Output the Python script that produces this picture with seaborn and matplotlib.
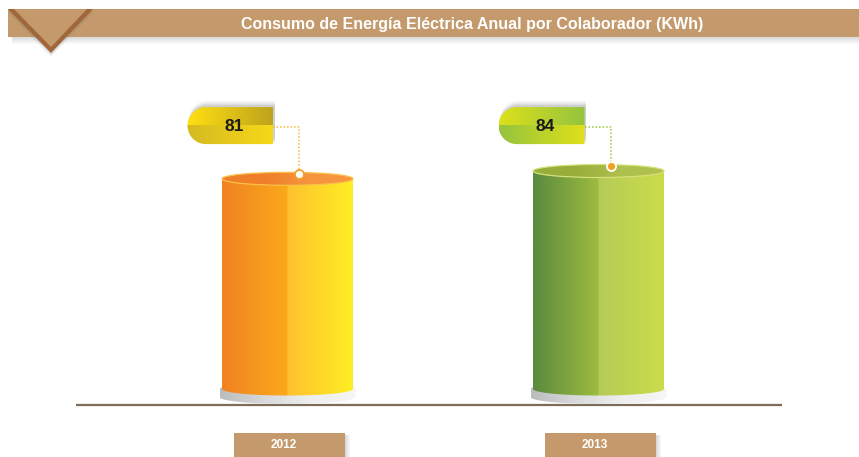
import numpy as np
import pandas as pd
import matplotlib
matplotlib.use("Agg")
import matplotlib.pyplot as plt
import seaborn as sns
from matplotlib.patches import Rectangle, Ellipse, PathPatch, Polygon
from matplotlib.path import Path
from matplotlib.colors import to_rgb

# ---------------- data ----------------
years = ["2012", "2013"]
consumo_kwh = [81, 84]
title = "Consumo de Energía Eléctrica Anual por Colaborador (KWh)"

# ---------------- styles ----------------
body_cols = [("#F08222", "#FBA91B", "#FDC12F", "#FFEE24"),
             ("#5B8A3F", "#9CBB3F", "#B6CB56", "#C9DD4A")]
top_cols = [("#EF7F28", "#F6953F", "#FBC04A"),
            ("#98AE3B", "#AEC04D", "#D7E07A")]
pill_cols = [(("#FFE012", "#BFA31C"), ("#D4BA22", "#F6D818")),
             (("#DDE01A", "#94C43E"), ("#94C43E", "#E0E01A"))]
line_cols = ["#F5B942", "#9CC43C"]
dot_face = ["white", "#F2A024"]
dot_edge = ["#F0A030", "white"]
TAN = "#C49A6C"
DARK = "#A0673A"

sns.set_theme(style="white")
plt.rcParams['font.family'] = ['Liberation Sans', 'DejaVu Sans']

W, H = 859, 457
fig = plt.figure(figsize=(W / 100, H / 100), dpi=100)
ax = fig.add_axes([0, 0, 1, 1])
df = pd.DataFrame({"year": years, "kwh": consumo_kwh})
sns.barplot(data=df, x="year", y="kwh", hue="year",
            palette=[c[1] for c in body_cols], width=0.421,
            linewidth=0, legend=False, ax=ax, zorder=3)
ax.set_xlim(-0.9244, 1.8376)
ax.set_ylim(-26.2, 149.9)
ax.axis("off")

PX = 2.595           # pixels per data unit (vertical)
EH = 13 / PX         # ellipse height in data units


def hgrad(stops, n=256):
    cols = [np.array(to_rgb(c)) for c in stops]
    segs = len(cols) - 1
    out = []
    for k in range(segs):
        t = np.linspace(0, 1, n // segs)[:, None]
        out.append(cols[k] * (1 - t) + cols[k + 1] * t)
    return np.concatenate(out)[None, :, :]


def grad2(a, b, c, d, n=256):
    left = hgrad([a, b], n // 2)
    right = hgrad([c, d], n // 2)
    return np.concatenate([left, right], axis=1)


bars = list(ax.patches)
bar_info = []
for i, p in enumerate(bars):
    x0, w, v = p.get_x(), p.get_width(), p.get_height()
    xc = x0 + w / 2
    bar_info.append((xc, v))
    # plate (grey base)
    pw = w * 136 / 131
    pd_ = 8 / PX
    pe = 14 / PX
    verts = [(xc - pw / 2, 0), (xc - pw / 2, -pd_)]
    tt = np.linspace(np.pi, 2 * np.pi, 60)
    verts += [(xc + pw / 2 * np.cos(t), -pd_ + pe / 2 * np.sin(t)) for t in tt]
    verts += [(xc + pw / 2, 0)]
    tt2 = np.linspace(0, np.pi, 60)
    verts += [(xc + pw / 2 * np.cos(t), EH / 2 * np.sin(t)) for t in tt2]
    plate = PathPatch(Path(verts + [verts[0]]), facecolor="none", edgecolor="none", zorder=2)
    ax.add_patch(plate)
    im = ax.imshow(hgrad(["#BABCBE", "#D8D9DA", "#EDEEEE", "#F6F6F6"]),
                   extent=(xc - pw / 2, xc + pw / 2, -pd_ - pe / 2, EH / 2),
                   aspect="auto", zorder=2, interpolation="bilinear")
    im.set_clip_path(plate)

    # cylinder body: rectangle + rounded bottom
    verts = [(x0, v), (x0, 0)]
    verts += [(xc + w / 2 * np.cos(t), EH / 2 * np.sin(t)) for t in tt]
    verts += [(x0 + w, v), (x0, v)]
    body = PathPatch(Path(verts), facecolor="none", edgecolor="none", zorder=3)
    ax.add_patch(body)
    im = ax.imshow(grad2(*body_cols[i]), extent=(x0, x0 + w, -EH / 2, v),
                   aspect="auto", zorder=4, interpolation="bilinear")
    im.set_clip_path(body)

    # top ellipse
    tl, tr, rim = top_cols[i]
    top = Ellipse((xc, v), w, EH, facecolor="none", edgecolor="none", zorder=5)
    ax.add_patch(top)
    im = ax.imshow(hgrad([tl, tl, tr, tr]), extent=(x0, x0 + w, v - EH / 2, v + EH / 2),
                   aspect="auto", zorder=5, interpolation="bilinear")
    im.set_clip_path(top)
    ax.add_patch(Ellipse((xc, v), w, EH, facecolor="none", edgecolor=rim, lw=0.9, zorder=6))

# baseline
ax.plot([-0.680, 1.590], [-5.97, -5.97], color="#7D6D58", lw=1.6, zorder=1,
        solid_capstyle="butt")

# ---------------- overlay in pixel space ----------------
ov = fig.add_axes([0, 0, 1, 1], zorder=5)
ov.set_xlim(0, W)
ov.set_ylim(H, 0)
ov.axis("off")
ov.patch.set_alpha(0)


def to_px(x, y):
    d = ax.transData.transform((x, y))
    return d[0], H - d[1]


# header band
for k in range(7):
    ov.add_patch(Rectangle((12, 37 + k), W - 12, 1, color="#808080",
                           alpha=0.28 * (1 - k / 7), lw=0))
ov.add_patch(Rectangle((8, 9), W - 8, 28, color=TAN, lw=0))
for k in range(5):
    ov.add_patch(Polygon([(8, 9 + k), (93, 9 + k), (51, 53 + k)], closed=True,
                         color="#707070", alpha=0.07, lw=0))
ov.add_patch(Polygon([(8, 9), (93, 9), (51, 53)], closed=True, color=DARK, lw=0))
ov.add_patch(Polygon([(14, 9), (87, 9), (51, 47)], closed=True, color=TAN, lw=0))
ov.text(472, 24, title, ha="center", va="center", color="white",
        fontweight="bold", fontsize=11.5)

# value pills + connectors
PILL_Y = 101.5
for i, (xc, v) in enumerate(bar_info):
    cx, _ = to_px(xc, v)
    _, py = to_px(xc, PILL_Y)
    left, right = cx - 100, cx - 14
    r = 18.5
    top, bot = py - r, py + r
    tt = np.linspace(-np.pi / 2, np.pi / 2, 60)

    def pill_path(dx=0.0, dy=0.0):
        vv = [(right + dx, top + dy), (left + r + dx, top + dy)]
        vv += [(left + r - r * np.cos(t) + dx, py + r * np.sin(t) + dy) for t in tt]
        vv += [(right + dx, bot + dy), (right + dx, top + dy)]
        return Path(vv)

    for k, a in enumerate([0.16, 0.12, 0.08, 0.05]):
        ov.add_patch(PathPatch(pill_path(1.5, -2 - 1.5 * k), facecolor="#777777",
                               edgecolor="none", alpha=a, zorder=1))
    pp = PathPatch(pill_path(), facecolor="none", edgecolor="none", zorder=2)
    ov.add_patch(pp)
    (ta, tb), (ba, bb) = pill_cols[i]
    im1 = ov.imshow(hgrad([ta, tb]), extent=(left, right, py, top - 1),
                    aspect="auto", zorder=2, interpolation="bilinear")
    im1.set_clip_path(pp)
    im2 = ov.imshow(hgrad([ba, bb]), extent=(left, right, bot + 1, py),
                    aspect="auto", zorder=2, interpolation="bilinear")
    im2.set_clip_path(pp)
    ov.text((left + right) / 2 + 4, py + 1, f"{v:g}", ha="center", va="center",
            fontsize=12.5, fontweight="bold", color="#1A1A1A", zorder=3)

    _, dot_y = to_px(xc, v + 2)
    lx = cx + 12
    ov.plot([right, lx, lx], [py + 1, py + 1, dot_y], color=line_cols[i], lw=1.1,
            linestyle=(0, (1, 1.3)), zorder=3)
    ov.plot([lx], [dot_y], marker="o", ms=6.5, mfc=dot_face[i], mec=dot_edge[i],
            mew=1.3, zorder=4)

    # year label box
    bx = cx - 53.5
    for k in range(5):
        ov.add_patch(Rectangle((bx + 111 + k, 435), 1, 30, color="#808080",
                               alpha=0.3 * (1 - k / 5), lw=0))
    ov.add_patch(Rectangle((bx, 433), 111, 30, color=TAN, lw=0, zorder=2))
    ov.text(cx - 4, 445.5, years[i], ha="center", va="center", color="white",
            fontweight="bold", fontsize=8.5, zorder=3)

fig.savefig("out.png", dpi=100)
